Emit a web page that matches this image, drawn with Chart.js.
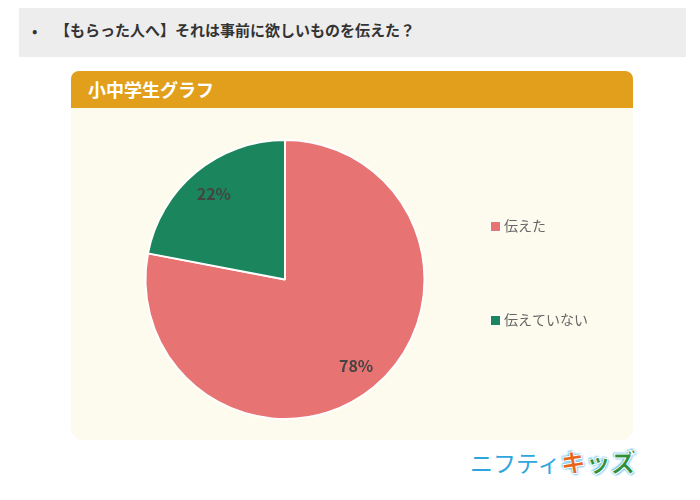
<!DOCTYPE html>
<html lang="ja">
<head>
<meta charset="utf-8">
<script src="https://cdn.jsdelivr.net/npm/chart.js@4"></script>
<style>
  body { margin: 0; width: 700px; height: 500px; background: #fff; font-family: "Noto Sans CJK JP", "Noto Sans", sans-serif; position: relative; overflow: hidden; }
  .question { position: absolute; left: 19px; top: 8px; width: 667px; height: 49px; background: #ededed; }
  .question span.dot { position: absolute; left: 13px; top: 10px; font-size: 16px; color: #333; }
  .question span.txt { position: absolute; left: 36px; top: 11px; font-size: 15px; font-weight: bold; color: #333; }
  .header { position: absolute; left: 71px; top: 71px; width: 562px; height: 37px; background: #e29f1b; border-radius: 8px 8px 0 0; }
  .header span { position: absolute; left: 17px; top: 5px; font-size: 18px; font-weight: bold; color: #fff; }
  .panel { position: absolute; left: 71px; top: 108px; width: 562px; height: 332px; background: #fdfbee; border-radius: 0 0 12px 12px; }
  #chartBox { position: absolute; left: 71px; top: 108px; width: 562px; height: 332px; }
  .logo { position: absolute; left: 470px; top: 443px; font-size: 23px; white-space: nowrap; }
  .logo .n { color: #2fa5dd; letter-spacing: 0px; }
  .logo .k, .logo .z { font-weight: 900; font-size: 25px; -webkit-text-stroke: 1px #fff; text-shadow: 0 0 2px #5bb8ea, 1px 1px 2px #5bb8ea, -1px -1px 2px #5bb8ea; }
  .logo .k { color: #e8641b; }
  .logo .z { color: #2f8f3a; }
</style>
</head>
<body>
<div class="question"><span class="dot">•</span><span class="txt">【もらった人へ】それは事前に欲しいものを伝えた？</span></div>
<div class="header"><span>小中学生グラフ</span></div>
<div class="panel"></div>
<div id="chartBox"><canvas id="pieChart"></canvas></div>
<div class="logo"><span class="n">ニフティ</span><span class="k">キ</span><span class="z">ッズ</span></div>
<script>
const categories = ['伝えた', '伝えていない'];
const values = [78, 22];
const sliceColors = ['#e87373', '#1b865e'];

// 扇形の中に%を描く
const percentLabels = {
  id: 'percentLabels',
  afterDatasetsDraw(chart) {
    const ctx = chart.ctx;
    const meta = chart.getDatasetMeta(0);
    ctx.save();
    ctx.font = 'bold 16px "Noto Sans CJK JP", "Noto Sans", sans-serif';
    ctx.fillStyle = '#444';
    ctx.textAlign = 'center';
    ctx.textBaseline = 'middle';
    meta.data.forEach((arc, i) => {
      const mid = (arc.startAngle + arc.endAngle) / 2;
      const r = arc.outerRadius * 0.8;
      ctx.fillText(values[i] + '%', arc.x + Math.cos(mid) * r, arc.y + Math.sin(mid) * r);
    });
    ctx.restore();
  }
};

// 右側の凡例
const sideLegend = {
  id: 'sideLegend',
  afterDraw(chart) {
    const ctx = chart.ctx;
    const area = chart.chartArea;
    const cy = (area.top + area.bottom) / 2;
    const x = area.right - 8;
    const rows = [cy - 53, cy + 41];
    ctx.save();
    ctx.font = '14px "Noto Sans CJK JP", "Noto Sans", sans-serif';
    ctx.textBaseline = 'middle';
    categories.forEach((name, i) => {
      ctx.fillStyle = '#fff';
      ctx.fillRect(x - 1, rows[i] - 5.5, 11, 11);
      ctx.fillStyle = sliceColors[i];
      ctx.fillRect(x, rows[i] - 4.5, 9, 9);
      ctx.fillStyle = '#666';
      ctx.fillText(name, x + 13, rows[i] - 1);
    });
    ctx.restore();
  }
};

new Chart(document.getElementById('pieChart').getContext('2d'), {
  type: 'pie',
  data: {
    labels: categories,
    datasets: [{
      data: values,
      backgroundColor: sliceColors,
      borderColor: '#fff',
      borderWidth: 2
    }]
  },
  options: {
    responsive: true,
    maintainAspectRatio: false,
    animation: false,
    layout: { padding: { top: 31, bottom: 20, left: 0, right: 134 } },
    plugins: {
      legend: { display: false },
      tooltip: { enabled: false }
    }
  },
  plugins: [percentLabels, sideLegend]
});
</script>
</body>
</html>
